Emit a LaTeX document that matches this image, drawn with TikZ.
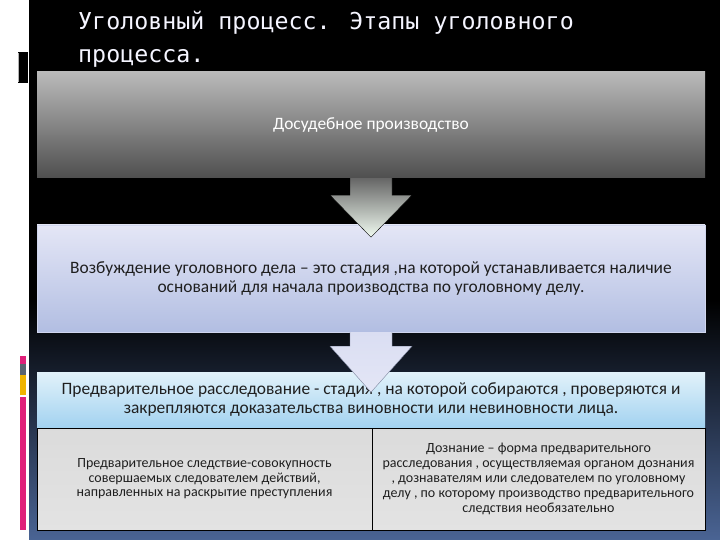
\documentclass[tikz,border=0pt]{standalone}
\usepackage{fontspec}
\setmainfont{Carlito}
\newfontfamily\titlefont{DejaVu Sans Mono}
\usetikzlibrary{calc}
\definecolor{bgblue}{HTML}{4A6494}
\definecolor{barpink}{HTML}{E0207A}
\definecolor{bargray}{HTML}{5A6470}
\definecolor{baryellow}{HTML}{F0B400}
\definecolor{lavtop}{HTML}{E4E6F6}
\definecolor{lavbot}{HTML}{B2BEE2}
\definecolor{skytop}{HTML}{E2F2FA}
\definecolor{skybot}{HTML}{A2D2F0}
\begin{document}
\begin{tikzpicture}[x=1pt,y=-1pt,
  stagebox/.style={minimum width=668pt,inner sep=0pt,align=center,text=black!88},
  halfbox/.style={draw=black,line width=0.8pt,minimum height=102pt,inner sep=0pt,align=center,
    top color=black!14,middle color=black!30,bottom color=black!11,text=black!88}]
\useasboundingbox (0,0) rectangle (720,540);
\fill[white] (0,0) rectangle (720,540);
\fill[black] (29,0) rectangle (720,540);
\shade[top color=black,bottom color=bgblue] (29,300) rectangle (720,540);
% side marks
\fill[black] (18,52) rectangle (28,83);
\draw[white!70!black,line width=0.6pt] (18.5,53) -- (18.5,82);
\foreach\a/\b/\c in {356/364/barpink,364/375/bargray,375/395/baryellow,397/530/barpink} {
  \fill[\c] (20,\a) rectangle (26,\b);
}
% title
\node[anchor=base west,text=blue!4!white,font=\titlefont\fontsize{23.3}{33}\selectfont,align=left,inner sep=0pt]
  (title) at (78,63) {Уголовный процесс. Этапы уголовного\\процесса.};
% stages
\node[stagebox,minimum height=106pt,top color=black!27,middle color=black!64,bottom color=black!69,
  text=white,font=\fontsize{17.4}{19}\selectfont] (pre) at (371,125) {Досудебное производство};
\node[stagebox,minimum height=107pt,top color=lavtop,bottom color=lavbot,draw=lavtop!60!lavbot,
  font=\fontsize{17.4}{18.5}\selectfont] (init) at (371,278.5)
  {Возбуждение уголовного дела – это стадия ,на которой устанавливается наличие\\оснований для начала производства по уголовному делу.};
\node[stagebox,minimum height=56pt,top color=skytop,bottom color=skybot,
  font=\fontsize{17.4}{19}\selectfont] (inv) at (371,400)
  {Предварительное расследование -  стадия , на которой собираются , проверяются и\\закрепляются доказательства виновности или невиновности лица.};
\node[halfbox,minimum width=335pt,font=\fontsize{14}{14.5}\selectfont] (sled) at (204.5,479)
  {Предварительное следствие-совокупность\\совершаемых  следователем  действий,\\направленных на раскрытие преступления};
\node[halfbox,minimum width=333pt,font=\fontsize{14}{15}\selectfont] (dozn) at (538.5,479)
  {Дознание – форма предварительного\\расследования , осуществляемая органом дознания\\, дознавателям или следователем по уголовному\\делу , по которому производство предварительного\\следствия необязательно};
\draw[black,line width=0.8pt] (inv.south west) -- (inv.south east);
% arrows
\shade[top color=black!60,bottom color=black!30!green!8!white!70,draw=black,line width=0.4pt]
  ($(pre.south)+(-21,0)$) -- ++(0,17) -- ++(-20,0) -- ($(pre.south)+(0,59)$) -- ++(41,-42) -- ++(-20,0) -- ++(0,-17);
\shade[top color=lavtop!80!lavbot,bottom color=lavtop,draw=lavbot!70!black,line width=0.4pt]
  ($(init.south)+(-21,0)$) -- ++(0,14) -- ++(-20,0) -- ($(init.south)+(0,60)$) -- ++(41,-46) -- ++(-20,0) -- ++(0,-14);
\end{tikzpicture}
\end{document}
